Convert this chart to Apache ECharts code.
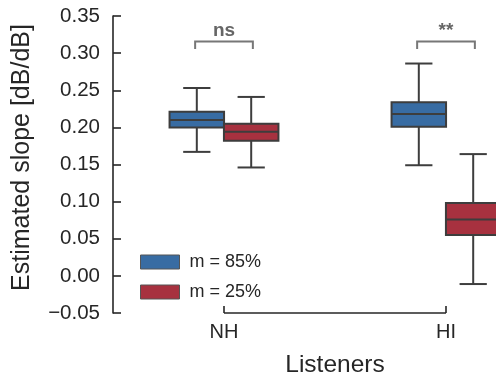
<!DOCTYPE html>
<html>
<head>
<meta charset="utf-8">
<script src="https://cdn.jsdelivr.net/npm/echarts@6/dist/echarts.min.js"></script>
<style>
  html, body { margin: 0; padding: 0; background: #ffffff; }
  #chart { width: 496px; height: 380px; }
</style>
</head>
<body>
<div id="chart"></div>
<script>
// Listener groups and modulation conditions
const categories = ['NH', 'HI'];
const seriesNames = ['m = 85%', 'm = 25%'];

// Box summaries per group: lower whisker, Q1, median, Q3, upper whisker
const low85  = [0.167, 0.149];
const q1_85  = [0.200, 0.201];
const med85  = [0.210, 0.218];
const q3_85  = [0.221, 0.234];
const high85 = [0.253, 0.286];

const low25  = [0.146, -0.011];
const q1_25  = [0.182, 0.055];
const med25  = [0.194, 0.076];
const q3_25  = [0.205, 0.098];
const high25 = [0.241, 0.164];

// Significance markers between the two conditions of each group
const sigLabels = ['ns', '**'];
const sigBracketTop = [0.3155, 0.3155];
const sigBracketFoot = [0.3055, 0.3055];

// Value axis range and step
const yMin = -0.05;
const yMax = 0.35;
const yStep = 0.05;

// ---- styling ----
const FONT = '"Liberation Sans", Arial, Helvetica, sans-serif';
const INK = '#262626';
const EDGE = '#3d3d3d';
const COLORS = ['#386ca3', '#a7313f'];
const BOX_WIDTH = 0.2455;   // fraction of a category band
const BOX_OFFSET = 0.1225;  // centre offset of each box from the band centre
const BRACKET_HALF = 0.13;

function boxRows(lo, q1, md, q3, hi) {
  return categories.map((c, i) => [c, lo[i], q1[i], md[i], q3[i], hi[i]]);
}

function makeBoxRenderer(side) {
  return function (params, api) {
    const cat = api.value(0);
    const band = api.size([1, 0])[0];
    const cx = api.coord([cat, 0])[0] + side * BOX_OFFSET * band;
    const half = BOX_WIDTH * band / 2;
    const capHalf = half / 2;
    const py = (i) => api.coord([cat, api.value(i)])[1];
    const yLow = py(1), yQ1 = py(2), yMed = py(3), yQ3 = py(4), yHigh = py(5);
    const stroke = () => ({ stroke: EDGE, lineWidth: 2 });
    return {
      type: 'group',
      children: [
        { type: 'line', shape: { x1: cx, y1: yQ1, x2: cx, y2: yLow }, style: stroke() },
        { type: 'line', shape: { x1: cx, y1: yQ3, x2: cx, y2: yHigh }, style: stroke() },
        { type: 'line', shape: { x1: cx - capHalf, y1: yLow, x2: cx + capHalf, y2: yLow }, style: stroke() },
        { type: 'line', shape: { x1: cx - capHalf, y1: yHigh, x2: cx + capHalf, y2: yHigh }, style: stroke() },
        {
          type: 'rect',
          shape: { x: cx - half, y: yQ3, width: 2 * half, height: yQ1 - yQ3 },
          style: { fill: api.visual('color'), stroke: EDGE, lineWidth: 2 }
        },
        { type: 'line', shape: { x1: cx - half, y1: yMed, x2: cx + half, y2: yMed }, style: stroke() }
      ]
    };
  };
}

function renderBracket(params, api) {
  const cat = api.value(0);
  const band = api.size([1, 0])[0];
  const cx = api.coord([cat, 0])[0];
  const yTop = api.coord([cat, api.value(1)])[1];
  const yFoot = api.coord([cat, api.value(2)])[1];
  const x0 = cx - BRACKET_HALF * band;
  const x1 = cx + BRACKET_HALF * band;
  return {
    type: 'group',
    children: [
      {
        type: 'polyline',
        shape: { points: [[x0, yFoot], [x0, yTop], [x1, yTop], [x1, yFoot]] },
        style: { stroke: '#777777', lineWidth: 2, fill: null }
      },
      {
        type: 'text',
        style: {
          x: cx, y: yTop - 1,
          text: sigLabels[params.dataIndex],
          fill: '#666666',
          font: 'bold 19px ' + FONT,
          align: 'center', verticalAlign: 'bottom'
        }
      }
    ]
  };
}

// Trimmed horizontal spine running from the first to the last category
function renderSpine(params, api) {
  const a = api.coord([0, yMin]);
  const b = api.coord([categories.length - 1, yMin]);
  return {
    type: 'line',
    shape: { x1: a[0], y1: a[1], x2: b[0], y2: b[1] },
    style: { stroke: INK, lineWidth: 1.6 }
  };
}

function fmtTick(v) {
  const r = Math.round(v * 100) / 100;
  return (r < 0 ? '\u2212' : '') + Math.abs(r).toFixed(2);
}

const chart = echarts.init(document.getElementById('chart'), null, { renderer: 'canvas' });

chart.setOption({
  animation: false,
  backgroundColor: '#ffffff',
  textStyle: { fontFamily: FONT },
  grid: { left: 113, top: 16, width: 444, height: 297, containLabel: false, outerBoundsMode: 'none' },
  legend: {
    data: seriesNames,
    orient: 'vertical',
    left: 135,
    top: 248,
    itemWidth: 39,
    itemHeight: 14,
    itemGap: 12,
    icon: 'rect',
    itemStyle: { borderColor: '#555555', borderWidth: 1 },
    textStyle: { fontSize: 18, color: INK, fontFamily: FONT, padding: [0, 0, 0, 5] }
  },
  xAxis: {
    type: 'category',
    data: categories,
    boundaryGap: true,
    name: 'Listeners',
    nameLocation: 'middle',
    nameGap: 40,
    nameTextStyle: { fontSize: 24.5, color: INK, fontFamily: FONT },
    axisLine: { show: false, onZero: false },
    axisTick: { show: true, inside: true, alignWithLabel: true, length: 7, lineStyle: { color: INK, width: 1.6 } },
    axisLabel: { fontSize: 20, color: INK, margin: 9, fontFamily: FONT },
    splitLine: { show: false }
  },
  yAxis: {
    type: 'value',
    min: yMin,
    max: yMax,
    interval: yStep,
    name: 'Estimated slope [dB/dB]',
    nameLocation: 'middle',
    nameRotate: 90,
    nameGap: 78,
    nameTextStyle: { fontSize: 25, color: INK, fontFamily: FONT, padding: [0, 0, 0, 14] },
    axisLine: { show: true, lineStyle: { color: INK, width: 1.6 } },
    axisTick: { show: true, inside: true, length: 8, lineStyle: { color: INK, width: 1.6 } },
    axisLabel: { fontSize: 20.5, color: INK, margin: 13, formatter: fmtTick, fontFamily: FONT },
    splitLine: { show: false }
  },
  series: [
    {
      name: seriesNames[0],
      type: 'custom',
      itemStyle: { color: COLORS[0] },
      renderItem: makeBoxRenderer(-1),
      encode: { x: 0, y: [1, 2, 3, 4, 5] },
      data: boxRows(low85, q1_85, med85, q3_85, high85),
      z: 3
    },
    {
      name: seriesNames[1],
      type: 'custom',
      itemStyle: { color: COLORS[1] },
      renderItem: makeBoxRenderer(1),
      encode: { x: 0, y: [1, 2, 3, 4, 5] },
      data: boxRows(low25, q1_25, med25, q3_25, high25),
      z: 3
    },
    {
      name: 'significance',
      type: 'custom',
      renderItem: renderBracket,
      encode: { x: 0, y: [1, 2] },
      data: categories.map((c, i) => [c, sigBracketTop[i], sigBracketFoot[i]]),
      z: 4
    },
    {
      name: 'spine',
      type: 'custom',
      renderItem: renderSpine,
      data: [[categories[0], yMin]],
      z: 2
    }
  ]
});
</script>
</body>
</html>
